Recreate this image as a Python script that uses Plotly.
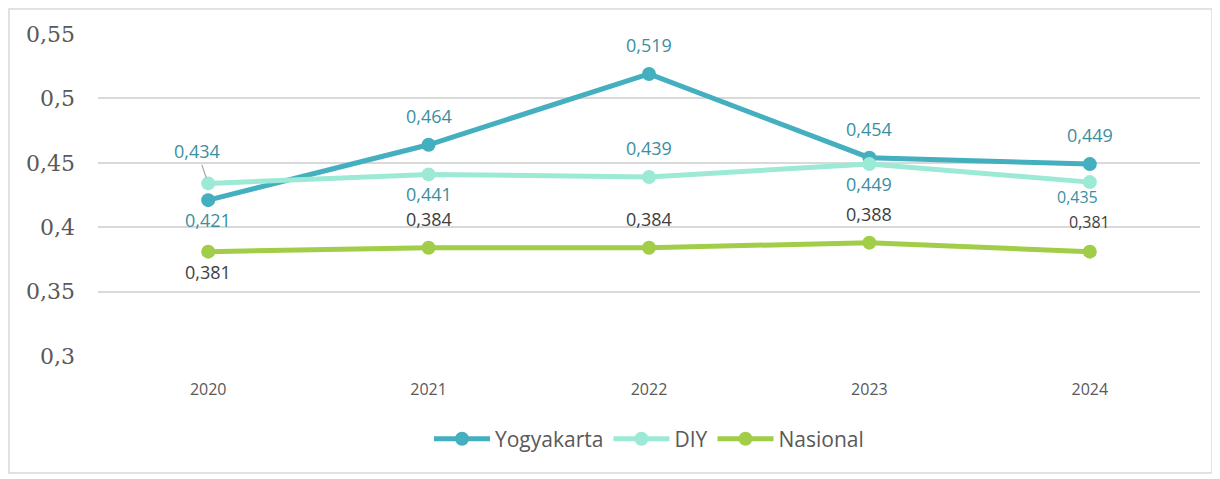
import plotly.graph_objects as go

years = ['2020', '2021', '2022', '2023', '2024']
yogyakarta = [0.421, 0.464, 0.519, 0.454, 0.449]
diy = [0.434, 0.441, 0.439, 0.449, 0.435]
nasional = [0.381, 0.384, 0.384, 0.388, 0.381]

# label placement per point: 1 = above, -1 = below
yogya_pos = [-1, 1, 1, 1, 1]
diy_pos = [1, -1, 1, -1, -1]
nas_pos = [-1, 1, 1, 1, 1]

series = [
    ('Yogyakarta', yogyakarta, yogya_pos, '#43AFBF', '#3B8F9F'),
    ('DIY', diy, diy_pos, '#9CEAD6', '#3B8F9F'),
    ('Nasional', nasional, nas_pos, '#A2CD48', '#404040'),
]

fig = go.Figure()

for name, vals, pos, color, label_color in series:
    fig.add_trace(go.Scatter(
        x=years, y=vals, name=name,
        mode='lines+markers',
        line=dict(color=color, width=5),
        marker=dict(color=color, size=14),
    ))
    for i in range(len(years)):
        txt = f"{vals[i]:.3f}".replace('.', ',')
        if name == 'DIY' and i == 0:
            fig.add_annotation(
                x=i, y=vals[i], text=txt, showarrow=True, arrowhead=0,
                arrowcolor='#a6a6a6', arrowwidth=1.2, ax=-11, ay=-32,
                standoff=6, font=dict(color=label_color, size=18,
                                      family='Open Sans'))
            continue
        shift = 29 if pos[i] > 0 else -20
        xs, fs = 0, 18
        # the two 2024 labels sit close together; tighten them
        if i == 4 and name == 'DIY':
            shift, xs, fs = -15, -12, 16
        if i == 4 and name == 'Nasional':
            shift, fs = 30, 16
        fig.add_annotation(
            x=i, y=vals[i], text=txt, showarrow=False,
            yshift=shift, xshift=xs, borderpad=0,
            font=dict(color=label_color, size=fs, family='Open Sans'))

# outer chart border (page body adds 8px offset, so figure is 1212x471)
fig.add_shape(type='rect', xref='paper', yref='paper',
              x0=-0.0808, x1=1.0109, y0=-0.3634, y1=1.0776,
              line=dict(color='#d9d9d9', width=1.5), layer='below')

fig.update_layout(
    width=1212, height=471,
    margin=dict(l=90, r=20, t=26, b=123),
    paper_bgcolor='white', plot_bgcolor='white',
    separators=',.',
    showlegend=True,
    legend=dict(orientation='h', x=0.5, xanchor='center',
                y=-0.258, yanchor='middle',
                font=dict(size=21, color='#595959', family='Open Sans'),
                itemwidth=56),
    xaxis=dict(range=[-0.5, 4.5], showgrid=False, zeroline=False,
               showline=False, ticks='', ticklabelstandoff=22,
               tickfont=dict(size=16, color='#595959', family='Open Sans')),
    yaxis=dict(range=[0.3, 0.55], dtick=0.05, tick0=0.3,
               showgrid=True, gridcolor='#d9d9d9', gridwidth=1.5,
               zeroline=False, showline=False, ticks='',
               ticklabelstandoff=22,
               tickfont=dict(size=22, color='#595959',
                             family='DejaVu Serif')),
)

fig.write_html("out.html")
